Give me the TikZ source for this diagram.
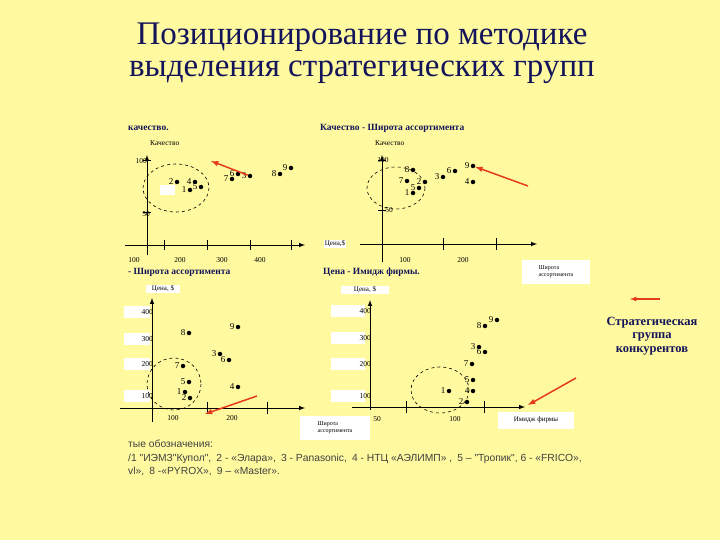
\documentclass[tikz,border=0pt]{standalone}
\usepackage{fontspec}
\setmainfont{Liberation Serif}
\newfontfamily\arialf{Liberation Sans}
\definecolor{bg}{RGB}{255,250,160}
\definecolor{navy}{RGB}{20,20,90}
\definecolor{redarr}{RGB}{230,60,30}
\begin{document}
\begin{tikzpicture}[x=1pt,y=-1pt,
  ax/.style={line width=1pt,-latex},
  tk/.style={line width=1pt},
  lbl/.style={font=\fontsize{7.5}{8}\selectfont,inner sep=0pt},
  nlbl/.style={font=\fontsize{9}{9}\selectfont,inner sep=0pt},
  ttl/.style={font=\bfseries\fontsize{9.5}{10}\selectfont,text=navy,anchor=west,inner sep=0pt},
  wbox/.style={fill=white,inner sep=1pt,font=\fontsize{7}{8}\selectfont,align=left},
  dot/.style={circle,fill=black,inner sep=0pt,minimum size=4.5pt},
  grp/.style={draw,dashed,line width=0.6pt},
  rarr/.style={draw=redarr,line width=1.5pt,-latex}]
\fill[bg] (0,0) rectangle (720,540);
\useasboundingbox (0,0) rectangle (720,540);
\node[font=\fontsize{33}{32}\selectfont,text=navy,align=center] (title) at (362,53) {Позиционирование по методике\\выделения стратегических групп};
\newcommand{\pnt}[4]{\node[dot] (#1) at (#2,#3) {}; \node[nlbl,left=1pt] at (#1.west) {#4};}
% ---- plot 1
\node[ttl] (t1) at (128,128) {качество.};
\node[lbl,anchor=west] (q1) at (150,143) {Качество};
\coordinate (y1a) at (147,255); \coordinate (y1b) at (147,155);
\draw[ax] (y1a) -- (y1b);
\coordinate (x1a) at (125,245); \coordinate (x1b) at (305,245);
\draw[ax] (x1a) -- (x1b);
\foreach \x in {164,207,250,291} \draw[tk] (\x,240) -- (\x,250);
\draw[tk] (143,161)--(151,161); \draw[tk] (143,213)--(151,213);
\node[lbl,anchor=east] at (147,161) {100};
\node[lbl,anchor=east] at (150,214) {50};
\foreach \x/\t in {134/100,180/200,222/300,260/400} \node[lbl] at (\x,260) {\t};
\node[fill=white,minimum width=15pt,minimum height=10pt,inner sep=0pt] (wb1) at (167,190) {};
\draw[grp] (176,188) ellipse [x radius=33,y radius=24];
\pnt{a2}{177}{182}{2}\pnt{a4}{195}{182}{4}\pnt{a1}{190}{190}{1}\pnt{a5}{201}{187}{5}
\pnt{a6}{238}{174}{6}\pnt{a7}{232}{179}{7}\pnt{a3}{250}{176}{3}\pnt{a8}{280}{174}{8}\pnt{a9}{291}{168}{9}
\coordinate (r1) at (211,161);
\draw[rarr] (a3) -- (r1);
\node[ttl] (t1b) at (128,272) {- Широта ассортимента};
% ---- plot 2
\node[ttl] (t2) at (320,128) {Качество - Широта ассортимента};
\node[lbl,anchor=west] (q2) at (375,143) {Качество};
\coordinate (y2a) at (382,262); \coordinate (y2b) at (382,155);
\draw[ax] (y2a) -- (y2b);
\coordinate (x2a) at (360,244); \coordinate (x2b) at (537,244);
\draw[ax] (x2a) -- (x2b);
\foreach \x in {443,496} \draw[tk] (\x,238) -- (\x,250);
\draw[tk] (378,161)--(386,161); \draw[tk] (378,211)--(386,211);
\node[lbl] at (383,160) {100};
\node[lbl] at (389,210) {50};
\node[wbox] (c2) at (335,244) {Цена,\$};
\node[lbl] at (405,260) {100};\node[lbl] at (463,260) {200};
\draw[grp] (396,188) ellipse [x radius=29,y radius=21];
\pnt{b8}{413}{170}{8}\pnt{b7}{407}{181}{7}\pnt{b2}{425}{182}{2}\pnt{b5}{419}{188}{5}\pnt{b1}{413}{193}{1}
\pnt{b3}{443}{177}{3}\pnt{b6}{455}{171}{6}\pnt{b9}{473}{166}{9}\pnt{b4}{473}{182}{4}
\coordinate (r2) at (528,186);
\draw[rarr] (r2) -- (b9);
\node[ttl] (t2b) at (323,272) {Цена - Имидж фирмы.};
\node[wbox,minimum width=68pt,minimum height=24pt,font=\fontsize{6}{7}\selectfont] (s2) at (556,272) {Широта\\ассортимента};
% ---- plot 3
\node[wbox,minimum width=34pt] (c3) at (163,289) {Цена, \$};
\foreach \y/\t in {312/400,339/300,364/200,396/100} {\node[fill=white,minimum width=26pt,minimum height=12pt,inner sep=0pt] at (137,\y) {}; \node[lbl,anchor=east] at (153,\y) {\t};}
\coordinate (y3a) at (152,422); \coordinate (y3b) at (152,298);
\draw[ax] (y3a) -- (y3b);
\coordinate (x3a) at (120,408); \coordinate (x3b) at (305,408);
\draw[ax] (x3a) -- (x3b);
\foreach \x in {207,267} \draw[tk] (\x,402) -- (\x,414);
\node[lbl] at (173,418) {100};\node[lbl] at (232,418) {200};
\draw[grp] (174,384) ellipse [x radius=27,y radius=26];
\pnt{c8}{189}{333}{8}\pnt{c9}{238}{327}{9}\pnt{c3}{220}{354}{3}\pnt{c6}{229}{360}{6}\pnt{c7}{183}{366}{7}
\pnt{c5}{189}{382}{5}\pnt{cc1}{185}{392}{1}\pnt{cc2}{190}{398}{2}\pnt{c4}{238}{387}{4}
\coordinate (r3a) at (257,396); \coordinate (r3b) at (205,414);
\draw[rarr] (r3a) -- (r3b);
% ---- plot 4
\node[wbox,minimum width=48pt] (c4b) at (365,290) {Цена, \$};
\foreach \y/\t in {311/400,338/300,364/200,396/100} {\node[fill=white,minimum width=34pt,minimum height=12pt,inner sep=0pt] at (348,\y) {}; \node[lbl,anchor=east] at (371,\y) {\t};}
\coordinate (y4a) at (370,410); \coordinate (y4b) at (370,300);
\draw[ax] (y4a) -- (y4b);
\coordinate (x4a) at (352,407); \coordinate (x4b) at (525,407);
\draw[ax] (x4a) -- (x4b);
\foreach \x in {406,484} \draw[tk] (\x,401) -- (\x,413);
\node[lbl] at (377,419) {50};\node[lbl] at (455,419) {100};
\draw[grp] (440,390) ellipse [x radius=29,y radius=23];
\pnt{d9}{497}{320}{9}\pnt{d8}{485}{326}{8}\pnt{d3}{479}{347}{3}\pnt{d6}{485}{352}{6}\pnt{d7}{472}{364}{7}
\pnt{d5}{473}{380}{5}\pnt{d1}{449}{391}{1}\pnt{d4}{473}{391}{4}\pnt{d2}{467}{402}{2}
\coordinate (r4a) at (576,378); \coordinate (r4b) at (528,405);
\draw[rarr] (r4a) -- (r4b);
\node[wbox,minimum width=70pt,minimum height=24pt,font=\fontsize{6}{7}\selectfont] (s4) at (335,428) {Широта\\ассортимента};
\node[wbox,minimum width=76pt,minimum height=17pt] (im4) at (536,420) {Имидж фирмы};
% ---- right legend
\coordinate (la) at (660,299); \coordinate (lb) at (630,299);
\draw[draw=redarr,line width=1.2pt,-latex] (la) -- (lb);
\node[font=\bfseries\fontsize{12.5}{13.5}\selectfont,text=navy,align=center] (sg) at (652,336) {Стратегическая\\группа\\конкурентов};
% ---- bottom legend
\node[font=\arialf\fontsize{10.3}{13.5}\selectfont,text=black!75,align=left,anchor=north west,inner sep=0pt] (leg) at (128,440) {тые обозначения:\\/1 "ИЭМЗ"Купол",\enspace 2 - «Элара»,\enspace 3 - Panasonic,\enspace 4 - НТЦ «АЭЛИМП» ,\enspace 5 – "Тропик", 6 - «FRICO»,\\vl»,\enspace 8 -«PYROX»,\enspace 9 – «Master».};
\end{tikzpicture}
\end{document}
